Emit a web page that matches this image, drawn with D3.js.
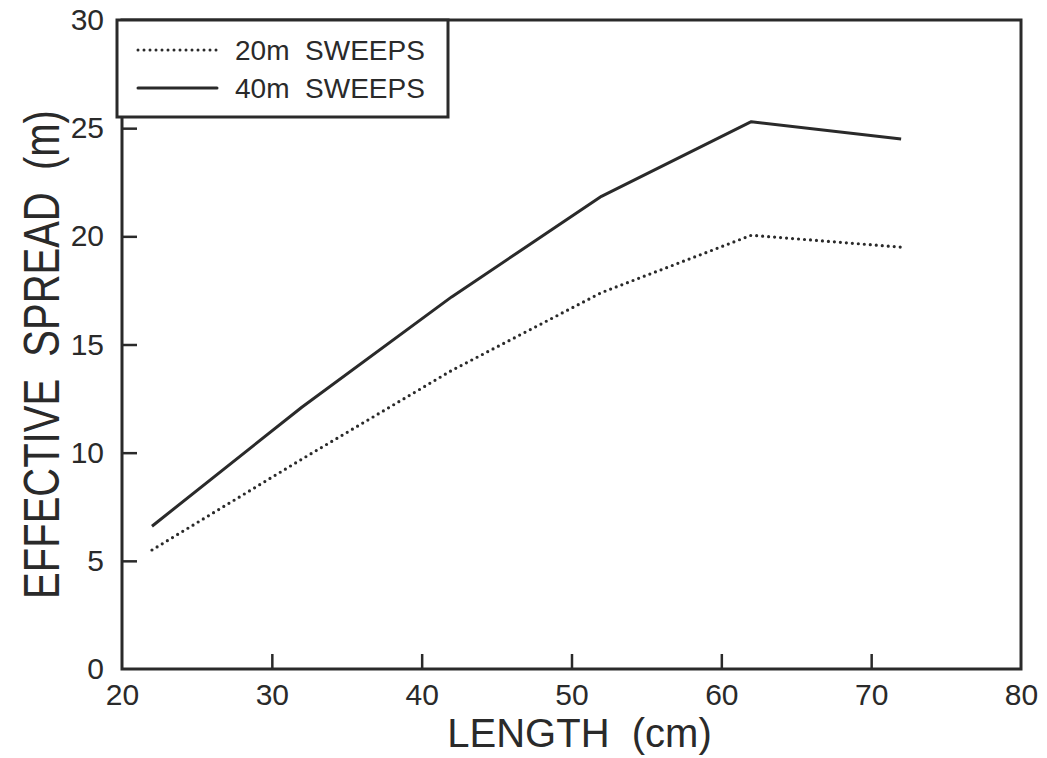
<!DOCTYPE html>
<html>
<head>
<meta charset="utf-8">
<script src="https://cdn.jsdelivr.net/npm/d3@7"></script>
<style>
  html, body { margin: 0; padding: 0; background: #fff; }
  svg { display: block; }
  text { font-family: "Liberation Sans", Arial, sans-serif; fill: #2a2a2a; }
</style>
</head>
<body>
<svg id="chart" width="1047" height="758"></svg>
<script>
const lengths = [22, 32, 42, 52, 62, 72];
const sweeps20 = [5.5, 9.7, 13.8, 17.4, 20.05, 19.5];
const sweeps40 = [6.6, 12.1, 17.2, 21.85, 25.3, 24.5];
const xTicks = [20, 30, 40, 50, 60, 70, 80];
const yTicks = [0, 5, 10, 15, 20, 25, 30];
const seriesNames = ["20m  SWEEPS", "40m  SWEEPS"];

(function () {
const ink = "#2a2a2a";
const svg = d3.select("#chart");
const pLeft = 122, pRight = 1021, pTop = 20, pBottom = 669;

const x = d3.scaleLinear().domain([20, 80]).range([pLeft, pRight]);
const y = d3.scaleLinear().domain([0, 30]).range([pBottom, pTop]);

// frame
svg.append("rect")
  .attr("x", pLeft).attr("y", pTop)
  .attr("width", pRight - pLeft).attr("height", pBottom - pTop)
  .attr("fill", "none").attr("stroke", ink).attr("stroke-width", 3);

// axes (ticks inside)
const xAxis = svg.append("g").attr("transform", `translate(0,${pBottom})`)
  .call(d3.axisBottom(x).tickValues(xTicks).tickSizeInner(-15).tickSizeOuter(0).tickPadding(15));
const yAxis = svg.append("g").attr("transform", `translate(${pLeft},0)`)
  .call(d3.axisLeft(y).tickValues(yTicks).tickSizeInner(-15).tickSizeOuter(0).tickPadding(18));
[xAxis, yAxis].forEach(g => {
  g.select(".domain").remove();
  g.selectAll(".tick line").attr("stroke", ink).attr("stroke-width", 2.5);
  g.selectAll(".tick text").attr("font-size", 30).attr("fill", ink)
    .style("font-family", '"Liberation Sans", Arial, sans-serif');
});
xAxis.selectAll(".tick line").filter(d => d === 20 || d === 80).remove();
yAxis.selectAll(".tick line").filter(d => d === 0 || d === 30).remove();

// lines
const line = d3.line().x((d, i) => x(lengths[i])).y(d => y(d));
svg.append("path").datum(sweeps20)
  .attr("d", line).attr("fill", "none").attr("stroke", ink)
  .attr("stroke-width", 3.2).attr("stroke-linecap", "round")
  .attr("stroke-dasharray", "0 6");
svg.append("path").datum(sweeps40)
  .attr("d", line).attr("fill", "none").attr("stroke", ink)
  .attr("stroke-width", 3).attr("stroke-linejoin", "round");

// axis titles
svg.append("text")
  .attr("x", (pLeft + pRight) / 2 + 8).attr("y", 747)
  .attr("text-anchor", "middle").attr("font-size", 40)
  .style("white-space", "pre")
  .text("LENGTH  (cm)");
svg.append("text")
  .attr("transform", `translate(59,${(117 + 592) / 2}) rotate(-90) scale(1,1.25)`)
  .attr("text-anchor", "middle").attr("font-size", 40)
  .style("white-space", "pre")
  .text("EFFECTIVE  SPREAD  (m)");

// legend
const lg = svg.append("g");
lg.append("rect")
  .attr("x", 117).attr("y", pTop).attr("width", 331).attr("height", 97)
  .attr("fill", "#fff").attr("stroke", ink).attr("stroke-width", 3);
const legendY = [50, 88];
const legendDash = ["0 6", null];
seriesNames.forEach((name, i) => {
  lg.append("line")
    .attr("x1", 138).attr("x2", 217).attr("y1", legendY[i]).attr("y2", legendY[i])
    .attr("stroke", ink).attr("stroke-width", 3).attr("stroke-linecap", "round")
    .attr("stroke-dasharray", legendDash[i]);
  lg.append("text")
    .attr("x", 235).attr("y", legendY[i] + 10)
    .attr("font-size", 28)
    .style("white-space", "pre")
    .text(name);
});
})();
</script>
</body>
</html>
